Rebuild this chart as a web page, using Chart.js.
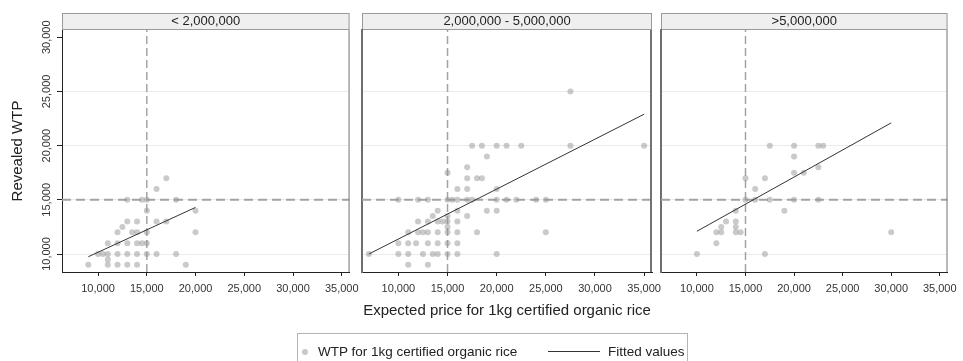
<!DOCTYPE html>
<html>
<head>
<meta charset="utf-8">
<script src="https://cdn.jsdelivr.net/npm/chart.js@4.4.1/dist/chart.umd.min.js"></script>
<style>
  html, body { margin: 0; padding: 0; background: #fff; }
  #page { position: relative; width: 963px; height: 361px; overflow: hidden; font-family: "Liberation Sans", Arial, sans-serif; }
  #page canvas { position: absolute; top: 0; }
  #legend { position: absolute; left: 297px; top: 333px; width: 391px; height: 40px; border: 1px solid #b4b4b4; box-sizing: border-box; font-size: 13.5px; color: #222; }
  #legend span { position: absolute; white-space: nowrap; }
  #legend .dot { left: 4px; top: 15px; width: 6px; height: 6px; border-radius: 50%; background: #c8c8c8; }
  #legend .txt { top: 10px; line-height: 16px; }
  #legend .ln { left: 250px; top: 17px; width: 52px; height: 0; border-top: 1px solid #333; }
</style>
</head>
<body>
<div id="page">
  <canvas id="c1" width="365" height="300" style="left:0px"></canvas>
  <canvas id="c2" width="390" height="361" style="left:300px"></canvas>
  <canvas id="c3" width="308" height="300" style="left:655px"></canvas>
  <div id="legend">
    <span class="dot"></span><span class="txt" style="left:20px">WTP for 1kg certified organic rice</span>
    <span class="ln"></span><span class="txt" style="left:310px">Fitted values</span>
  </div>
</div>
<script>
// ticks and ranges
const xTicks = [10000, 15000, 20000, 25000, 30000, 35000];
const yTicks = [10000, 15000, 20000, 25000, 30000];
const xRange = [6300, 35800];
const yRange = [8340, 30670];
const refValue = 15000;
const panelTitles = ["< 2,000,000", "2,000,000 - 5,000,000", ">5,000,000"];

// < 2,000,000
const lowPrice = [9000, 11000, 12000, 13000, 14000, 19000, 11000,
  10000, 10500, 11000, 12000, 13000, 14000, 15000, 16000, 18000,
  11000, 12000, 13000, 14000, 14500, 15000,
  12000, 13500, 14000, 15000, 20000, 12500,
  13000, 14000, 16000, 17000, 15000, 20000,
  13000, 14500, 15000, 18000, 16000, 17000];
const lowWtp = [9000, 9000, 9000, 9000, 9000, 9000, 9500,
  10000, 10000, 10000, 10000, 10000, 10000, 10000, 10000, 10000,
  11000, 11000, 11000, 11000, 11000, 11000,
  12000, 12000, 12000, 12000, 12000, 12500,
  13000, 13000, 13000, 13000, 14000, 14000,
  15000, 15000, 15000, 15000, 16000, 17000];
const lowFitPrice = [9000, 20000];
const lowFitWtp = [9750, 14300];

// 2,000,000 - 5,000,000
const midPrice = [11000, 13000,
  7000, 10000, 11000, 12500, 13500, 14000, 15000, 16000, 20000,
  10000, 11000, 11800, 13000, 14000, 15000, 16000,
  11000, 12000, 12500, 13000, 14000, 15000, 16000, 18000, 25000,
  15000,
  12000, 13000, 14000, 14500, 15000, 16000,
  13500, 15000, 17000,
  14000, 16000, 19000, 20000,
  10000, 12000, 13000, 15000, 15500, 16000, 17000, 17500, 20000, 21000, 22000, 24000, 25000,
  16000, 17000, 20000,
  17000, 18000, 18500,
  15000, 17000, 19000,
  17500, 18500, 20000, 21000, 22500, 27500, 35000,
  27500];
const midWtp = [9000, 9000,
  10000, 10000, 10000, 10000, 10000, 10000, 10000, 10000, 10000,
  11000, 11000, 11000, 11000, 11000, 11000, 11000,
  12000, 12000, 12000, 12000, 12000, 12000, 12000, 12000, 12000,
  12500,
  13000, 13000, 13000, 13000, 13000, 13000,
  13500, 13500, 13500,
  14000, 14000, 14000, 14000,
  15000, 15000, 15000, 15000, 15000, 15000, 15000, 15000, 15000, 15000, 15000, 15000, 15000,
  16000, 16000, 16000,
  17000, 17000, 17000,
  17500, 18000, 19000,
  20000, 20000, 20000, 20000, 20000, 20000, 20000,
  25000];
const midFitPrice = [7000, 35000];
const midFitWtp = [10000, 22900];

// >5,000,000
const highPrice = [10000, 17000, 12000, 12000, 12500, 12500, 13000, 14000, 14000, 14000,
  14500, 14000, 15000, 15000, 16000, 16000, 17000, 17500, 17500, 19000,
  20000, 20000, 20000, 20000, 21000, 22500, 23000, 22500, 22500, 30000];
const highWtp = [10000, 10000, 11000, 12000, 12000, 12500, 13000, 13000, 12500, 12000,
  12000, 14000, 15000, 17000, 16000, 15000, 17000, 15000, 20000, 14000,
  15000, 17500, 19000, 20000, 17500, 20000, 20000, 18000, 15000, 12000];
const highFitPrice = [10000, 30000];
const highFitWtp = [12100, 22100];

Chart.defaults.font.family = '"Liberation Sans", Arial, Helvetica, sans-serif';
Chart.defaults.color = "#333";

function toPoints(xs, ys) {
  return xs.map((x, i) => ({ x: x, y: ys[i] }));
}

// strip above each panel + right edge of the frame
const panelFrame = {
  id: "panelFrame",
  beforeDraw(chart, args, opts) {
    const { ctx, chartArea: a } = chart;
    ctx.save();
    ctx.fillStyle = "#efefef";
    ctx.fillRect(a.left, opts.stripTop, a.right - a.left, a.top - opts.stripTop);
    ctx.strokeStyle = "#9a9a9a";
    ctx.lineWidth = 1;
    ctx.strokeRect(a.left + 0.5, opts.stripTop + 0.5, a.right - a.left - 1, a.top - opts.stripTop - 1);
    ctx.restore();
  },
  afterDraw(chart, args, opts) {
    const { ctx, chartArea: a } = chart;
    ctx.save();
    ctx.strokeStyle = opts.edgeColor;
    ctx.lineWidth = opts.rightWidth;
    ctx.beginPath();
    ctx.moveTo(a.right - opts.rightWidth / 2, a.top);
    ctx.lineTo(a.right - opts.rightWidth / 2, a.bottom);
    ctx.stroke();
    ctx.restore();
  },
};

function makePanel(id, i, price, wtp, fitPrice, fitWtp, p) {
  const first = i === 0;
  const datasets = [
    {
      type: "line",
      data: toPoints(fitPrice, fitWtp),
      borderColor: "#333",
      borderWidth: 1,
      pointRadius: 0,
      order: 0,
    },
    {
      type: "scatter",
      data: toPoints(price, wtp),
      backgroundColor: "rgba(150,150,150,0.5)",
      borderWidth: 0,
      pointRadius: 3,
      pointHoverRadius: 3,
      order: 1,
    },
    {
      type: "line",
      data: [{ x: xRange[0], y: refValue }, { x: xRange[1], y: refValue }],
      borderColor: "#a3a3a3",
      borderWidth: 2,
      borderDash: [9, 5],
      pointRadius: 0,
      order: 2,
    },
    {
      type: "line",
      data: [{ x: refValue, y: yRange[0] }, { x: refValue, y: yRange[1] }],
      borderColor: "#a3a3a3",
      borderWidth: 1.5,
      borderDash: [8, 4],
      pointRadius: 0,
      order: 2,
    },
  ];

  return new Chart(document.getElementById(id), {
    type: "scatter",
    data: { datasets: datasets },
    plugins: [panelFrame],
    options: {
      responsive: false,
      animation: false,
      events: [],
      layout: { padding: p.pad },
      plugins: {
        legend: { display: false },
        tooltip: { enabled: false },
        title: {
          display: true,
          text: panelTitles[i],
          fullSize: false,
          color: "#222",
          font: { size: 13, weight: "normal" },
          padding: { top: 1, bottom: 0.4 },
        },
        subtitle: {
          display: !!p.xTitle,
          text: "Expected price for 1kg certified organic rice",
          position: "bottom",
          color: "#222",
          font: { size: 15 },
          padding: { top: 2, bottom: 0 },
        },
        panelFrame: { stripTop: 13, rightWidth: p.rightWidth, edgeColor: "#737373" },
      },
      scales: {
        x: {
          type: "linear",
          min: xRange[0],
          max: xRange[1],
          afterBuildTicks: (s) => { s.ticks = xTicks.map((v) => ({ value: v })); },
          afterFit: (s) => { s.height = 28; },
          ticks: {
            padding: 6,
            font: { size: 11 },
            color: "#333",
            maxRotation: 0,
            callback: (v) => v.toLocaleString("en-US"),
          },
          grid: { drawOnChartArea: false, drawTicks: true, tickLength: 4, tickColor: "#222" },
          border: { color: "#222", width: 1 },
        },
        y: {
          type: "linear",
          min: yRange[0],
          max: yRange[1],
          afterBuildTicks: (s) => { s.ticks = yTicks.map((v) => ({ value: v })); },
          afterFit: (s) => { s.width = first ? 62 : 0; },
          ticks: {
            display: first,
            minRotation: 90,
            maxRotation: 90,
            crossAlign: "center",
            padding: -6.5,
            font: { size: 11 },
            color: "#333",
            callback: (v) => v.toLocaleString("en-US"),
          },
          title: {
            display: first,
            text: "Revealed WTP",
            color: "#222",
            font: { size: 15 },
            padding: { top: 8.5, bottom: 0 },
          },
          grid: {
            drawTicks: first,
            tickLength: 5,
            tickColor: "#222",
            color: (c) => (c.tick && c.tick.value === 30000 ? "rgba(0,0,0,0)" : "#ebebeb"),
          },
          border: { color: first ? "#222" : "#6e6e6e", width: first ? 1 : 2 },
        },
      },
    },
  });
}

makePanel("c1", 0, lowPrice, lowWtp, lowFitPrice, lowFitWtp,
  { pad: { top: 13, left: 0, right: 14, bottom: 0 }, rightWidth: 1 });
makePanel("c2", 1, midPrice, midWtp, midFitPrice, midFitWtp,
  { pad: { top: 13, left: 62, right: 38, bottom: 41 }, rightWidth: 2, xTitle: true });
makePanel("c3", 2, highPrice, highWtp, highFitPrice, highFitWtp,
  { pad: { top: 13, left: 6, right: 12, bottom: 0 }, rightWidth: 1 });
</script>
</body>
</html>
